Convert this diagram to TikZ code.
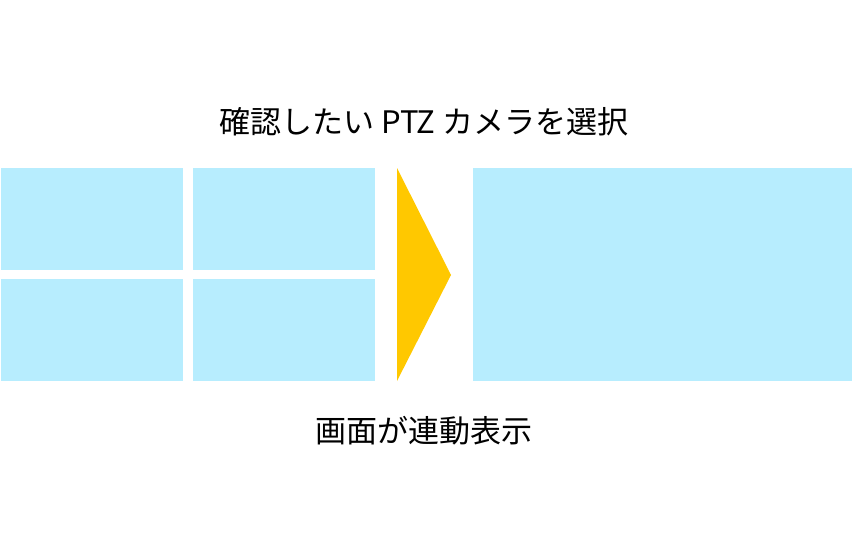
\documentclass[tikz,border=0pt]{standalone}
\usepackage{fontspec}
\newfontfamily\cjk{Noto Sans CJK JP}
\usepackage{tikz}
\definecolor{panelblue}{RGB}{183,237,254}
\definecolor{arrowyellow}{RGB}{255,200,0}

\begin{document}
\begin{tikzpicture}[
            x=1pt, y=-1pt,
            panel/.style={fill=panelblue}, % camera screens
            caption/.style={font=\cjk\fontsize{31}{37}\selectfont, inner sep=0pt} % labels
            ]
    \useasboundingbox (0,0) rectangle (852,546);

    % Caption above
    \node[caption] (select) at (424,122) {確認したい PTZ カメラを選択};

    % Four small screens
    \fill[panel] (1,168) rectangle (183,270);
    \fill[panel] (193,168) rectangle (375,270);
    \fill[panel] (1,279) rectangle (183,381);
    \fill[panel] (193,279) rectangle (375,381);

    % Arrow
    \fill[arrowyellow] (397,168) -- (451,275) -- (397,381) -- cycle;

    % Large screen
    \fill[panel] (473,168) rectangle (852,381);

    % Caption below
    \node[caption] (linked) at (424,431) {画面が連動表示};
\end{tikzpicture}
\end{document}
